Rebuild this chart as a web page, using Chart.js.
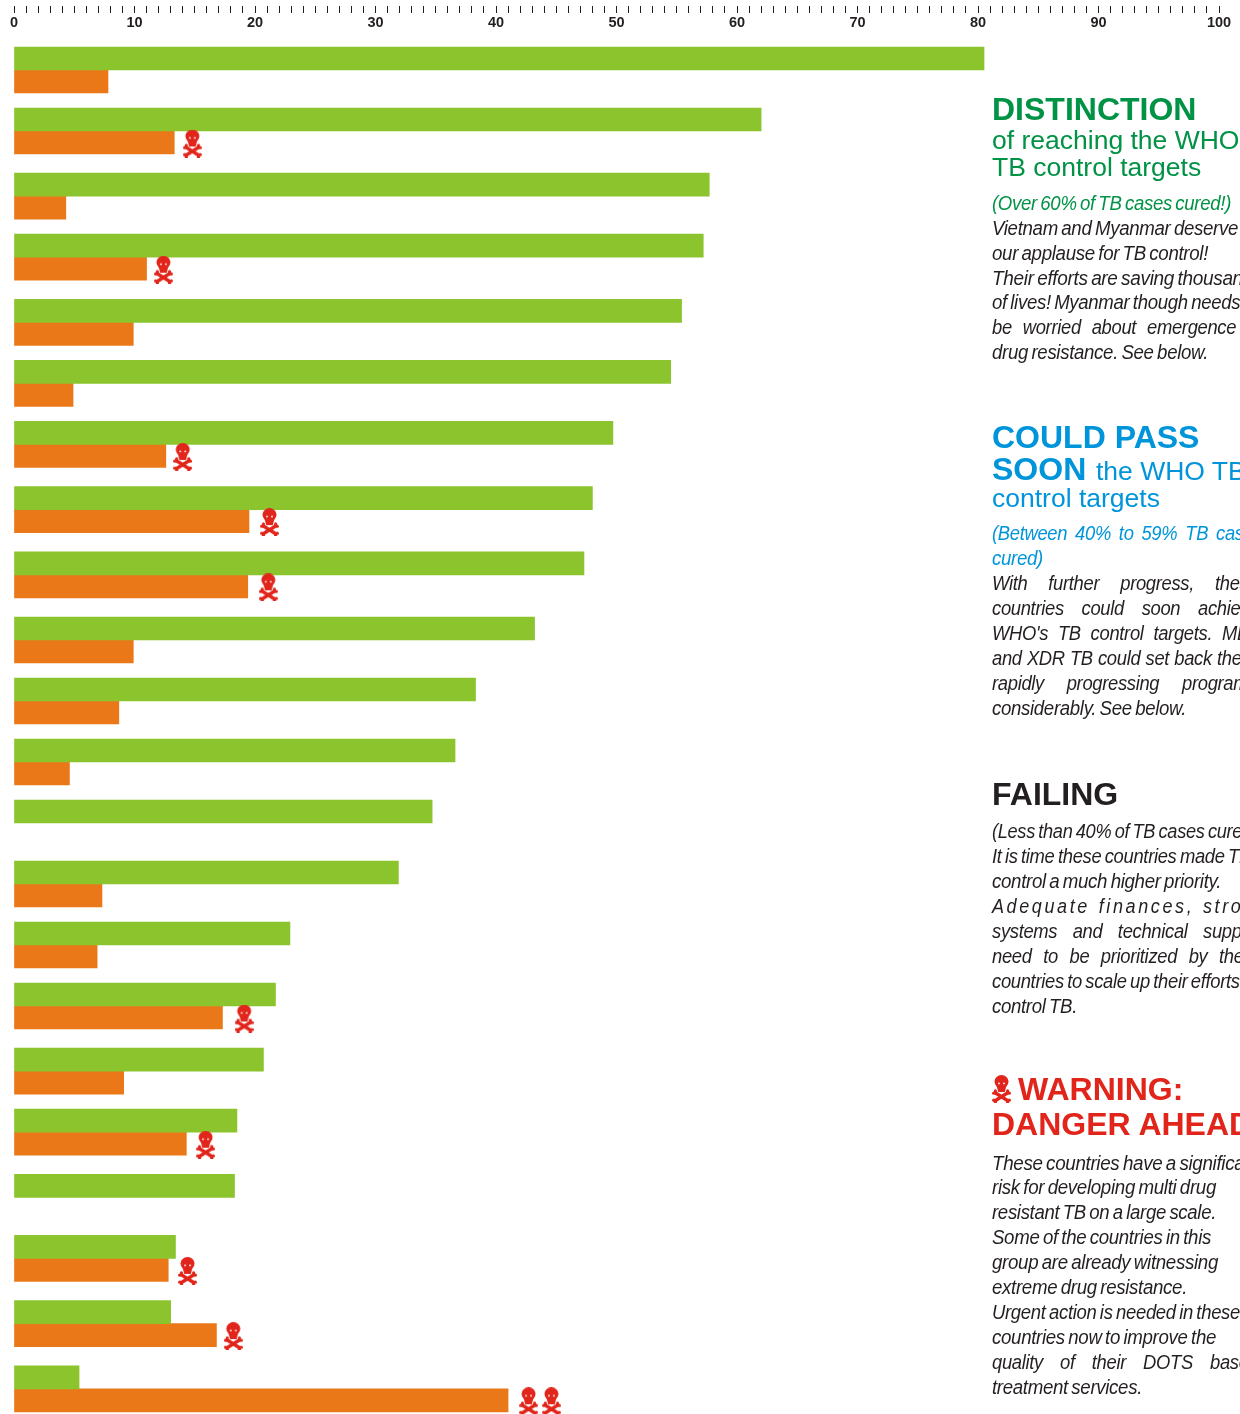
<!DOCTYPE html>
<html><head><meta charset="utf-8">
<script src="https://cdn.jsdelivr.net/npm/chart.js@4"></script>
<style>
html,body{margin:0;padding:0;background:#fff;width:1240px;height:1414px;overflow:hidden}
#wrap{position:relative;width:1240px;height:1414px;overflow:hidden}
canvas{display:block}
#skullIcon{position:absolute;left:992px;top:1075px}
.ln{position:absolute;left:992px;white-space:pre;transform-origin:0 0;font-family:"Liberation Sans",Arial,sans-serif;line-height:1}
</style></head>
<body><div id="wrap"><canvas id="c" width="1240" height="1414"></canvas><canvas id="skullIcon" width="19" height="28"></canvas></div>
<script>
// ---- values
const curedValues = [80.5,62.0,57.7,57.2,55.4,54.5,49.7,48.0,47.3,43.2,38.3,36.6,34.7,31.9,22.9,21.7,20.7,18.5,18.3,13.4,13.0,5.4];
const resistanceValues = [7.8,13.3,4.3,11.0,9.9,4.9,12.6,19.5,19.4,9.9,8.7,4.6,null,7.3,6.9,17.3,9.1,14.3,null,12.8,16.8,41.0];
const skullRows = [1,3,6,7,8,15,17,19,20,21,21];
const skullValues = [14.8,12.4,14.0,21.2,21.1,19.1,15.9,14.4,18.2,42.7,44.6];
const axisMin = 0, axisMax = 100, axisStep = 1, labelEvery = 10;

// ---- layout (rows that carry a skull get slightly more room below)
const rowUnitPx = 61, skullExtra = 4.2/61;
const rowPos = [];
curedValues.forEach((_, i) => {
  rowPos.push(i === 0 ? 0 : rowPos[i-1] + 1 + (skullRows.includes(i-1) ? skullExtra : 0));
});

function drawSkull(g){
  const red = '#e1251b';
  g.fillStyle = red; g.strokeStyle = red; g.lineCap = 'butt';
  g.lineWidth = 3.4;
  [[2,17,17,26.5],[17,17,2,26.5]].forEach(l => {
    g.beginPath(); g.moveTo(l[0],l[1]); g.lineTo(l[2],l[3]); g.stroke();
  });
  [[1.7,18.2],[3.4,15.9],[17.3,18.2],[15.6,15.9],[1.7,25.2],[3.4,27.4],[17.3,25.2],[15.6,27.4]].forEach(p => {
    g.beginPath(); g.arc(p[0],p[1],1.6,0,7); g.fill();
  });
  g.beginPath(); g.ellipse(9.5,6.6,7,6.6,0,0,7); g.fill();
  g.beginPath(); g.moveTo(4.4,10); g.lineTo(14.6,10); g.lineTo(12.8,17); g.lineTo(6.2,17); g.closePath(); g.fill();
  g.fillStyle = '#fff';
  [[7,8.4],[12,8.4]].forEach(p => { g.beginPath(); g.arc(p[0],p[1],0.9,0,7); g.fill(); });
}
const skullImg = document.createElement('canvas');
skullImg.width = 19; skullImg.height = 28;
drawSkull(skullImg.getContext('2d'));
drawSkull(document.getElementById('skullIcon').getContext('2d'));

const toPts = arr => arr.map((v,i) => ({x:v, y:rowPos[i]}));

new Chart(document.getElementById('c'), {
  type: 'bar',
  data: { datasets: [
    { label:'TB cases cured (%)', data: toPts(curedValues), backgroundColor:'#8cc42d', barThickness:23, order:2 },
    { label:'Drug resistance (%)', data: toPts(resistanceValues), backgroundColor:'#ea7818', barThickness:23, order:2 },
    { type:'scatter', indexAxis:'x', label:'Drug resistance warning', order:1, clip:false,
      data: skullValues.map((v,i) => ({x:v, y:rowPos[skullRows[i]] + 12.5/rowUnitPx})),
      pointStyle: skullImg, pointRadius: 10, showLine:false }
  ]},
  options: {
    indexAxis:'y', responsive:false, animation:false,
    layout:{ autoPadding:false, padding:{ left:14, right:21, top:0, bottom:0 } },
    plugins:{ legend:{display:false}, tooltip:{enabled:false} },
    scales:{
      x:{ type:'linear', position:'top', min:axisMin, max:axisMax,
        afterFit(s){ s.height = 13; },
        border:{display:false},
        grid:{ drawOnChartArea:false, drawTicks:true, tickLength:7, color:'#231f20', lineWidth:1 },
        ticks:{ stepSize:axisStep, autoSkip:false, maxRotation:0, mirror:true, padding:1.5, color:'#231f20',
          font:{ family:'"Liberation Sans Narrow","Liberation Sans",Arial,sans-serif', size:14.5, weight:'bold' },
          callback:v => (v % labelEvery === 0 ? String(v) : '') } },
      y:{ type:'linear', display:false, reverse:true, offset:false,
        min:-57/rowUnitPx, max:-57/rowUnitPx + 1401/rowUnitPx }
    }
  }
});

// ---- side panel text
const GREEN='#009245', BLUE='#0095da', DARK='#231f20', RED='#e1251b';
const K = 0.92, BASE_LS = -0.35, BASE_WS = -1.5;
const panelLines = [
 {t:'DISTINCTION',b:121,s:32,w:700,c:GREEN},
 {t:'of reaching the WHO',b:150,s:26.5,c:GREEN},
 {t:'TB control targets',b:177,s:26.5,c:GREEN},
 {t:'(Over 60% of TB cases cured!)',b:210,i:1,c:GREEN,end:1231},
 {t:'Vietnam and Myanmar deserve',b:235,i:1,end:1238},
 {t:'our applause for TB control!',b:260,i:1,end:1208},
 {t:'Their efforts are saving thousands',b:285,i:1,k:0.95},
 {t:'of lives! Myanmar though needs to',b:309,i:1,k:0.93},
 {t:'be worried about emergence of',b:334,i:1,at:[3,1147]},
 {t:'drug resistance. See below.',b:359,i:1,end:1208},

 {t:'COULD PASS',b:449,s:32,w:700,c:BLUE},
 {t:'SOON',b:481,s:32,w:700,c:BLUE},
 {t:'the WHO TB',b:481,s:26.5,c:BLUE,x:1096},
 {t:'control targets',b:508,s:26.5,c:BLUE},
 {t:'(Between 40% to 59% TB cases',b:540,i:1,c:BLUE,at:[5,1216]},
 {t:'cured)',b:565,i:1,c:BLUE,end:1043},
 {t:'With further progress, these',b:590,i:1,at:[3,1215]},
 {t:'countries could soon achieve the',b:615,i:1,at:[3,1198]},
 {t:"WHO's TB control targets. MDR",b:640,i:1,at:[4,1222]},
 {t:'and XDR TB could set back these',b:665,i:1,at:[6,1217]},
 {t:'rapidly progressing programmes',b:690,i:1,at:[2,1182]},
 {t:'considerably. See below.',b:715,i:1,end:1186},

 {t:'FAILING',b:806,s:32,w:700,c:DARK},
 {t:'(Less than 40% of TB cases cured)',b:838,i:1,k:0.91},
 {t:'It is time these countries made TB',b:863,i:1},
 {t:'control a much higher priority.',b:888,i:1,end:1221},
 {t:'Adequate finances, strong health',b:913,i:1,ls:2.9,at:[2,1203]},
 {t:'systems and technical support',b:938,i:1,at:[3,1203]},
 {t:'need to be prioritized by these',b:963,i:1,at:[5,1219]},
 {t:'countries to scale up their efforts to',b:988,i:1},
 {t:'control TB.',b:1013,i:1,end:1077},

 {t:'WARNING:',b:1101,s:32,w:700,c:RED,x:1018},
 {t:'DANGER AHEAD',b:1136,s:32,w:700,c:RED},
 {t:'These countries have a significant',b:1170,i:1,k:0.94},
 {t:'risk for developing multi drug',b:1194,i:1,end:1216},
 {t:'resistant TB on a large scale.',b:1219,i:1,end:1216},
 {t:'Some of the countries in this',b:1244,i:1,end:1211},
 {t:'group are already witnessing',b:1269,i:1,end:1218},
 {t:'extreme drug resistance.',b:1294,i:1,end:1187},
 {t:'Urgent action is needed in these',b:1319,i:1,end:1240},
 {t:'countries now to improve the',b:1344,i:1,end:1216},
 {t:'quality of their DOTS based',b:1369,i:1,at:[4,1210]},
 {t:'treatment services.',b:1394,i:1,end:1142}
];
const wrap = document.getElementById('wrap');
const mctx = document.createElement('canvas').getContext('2d');
panelLines.forEach(l => {
  const size = l.s || 20, weight = l.w || 400, style = l.i ? 'italic' : 'normal';
  const x = l.x || 992;
  const font = `${style} ${weight} ${size}px "Liberation Sans"`;
  mctx.font = font;
  const el = document.createElement('div');
  el.className = 'ln'; el.textContent = l.t;
  el.style.font = font; el.style.lineHeight = size + 'px';
  el.style.color = l.c || DARK; el.style.left = x + 'px';
  el.style.top = (l.b - size*0.86) + 'px';
  let k = 1, ws = 0, ls = 0;
  if (l.i) {
    k = l.k || K; ls = l.ls !== undefined ? l.ls : BASE_LS; ws = BASE_WS;
    const spaces = l.t.split(' ').length - 1;
    const natural = mctx.measureText(l.t).width + ls*l.t.length + ws*spaces;
    if (l.end) k = (l.end - x) / natural;
    if (l.at) {
      const words = l.t.split(' ');
      const head = words.slice(0,l.at[0]).join(' ') + ' ';
      if (l.ls) k = 0.9;
      ws = ((l.at[1]-x)/k - mctx.measureText(head).width - ls*head.length) / l.at[0];
    }
  }
  el.style.wordSpacing = ws + 'px';
  el.style.letterSpacing = ls + 'px';
  if (k !== 1) el.style.transform = `scaleX(${k})`;
  wrap.appendChild(el);
});
</script>
</body></html>
